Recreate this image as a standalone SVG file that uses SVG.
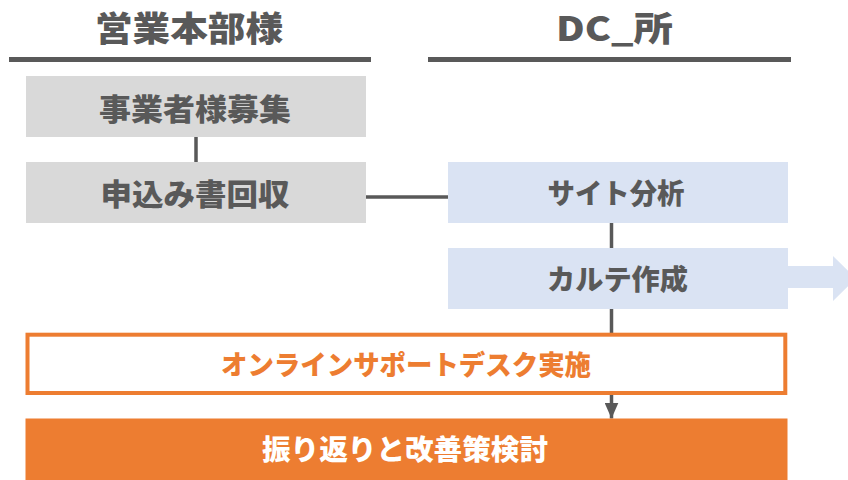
<svg xmlns="http://www.w3.org/2000/svg" width="848" height="480" viewBox="0 0 848 480">
<defs>
<style>
.t{font-family:"Noto Sans CJK JP","Noto Sans",sans-serif;font-weight:900;text-anchor:middle}
.g{fill:#595959}
.gray{fill:#d9d9d9}
.blue{fill:#dae3f3}
.ln{stroke:#595959;stroke-width:3.5;fill:none}
</style>
<marker id="ah" markerWidth="16" markerHeight="14" refX="16" refY="7" orient="auto" markerUnits="userSpaceOnUse">
<path d="M0,0 L16,7 L0,14 Z" fill="#595959"/>
</marker>
</defs>
<rect width="848" height="480" fill="#ffffff"/>
<g id="header-eigyo">
<text class="t g" x="189" y="41" font-size="34" textLength="188" lengthAdjust="spacingAndGlyphs">営業本部様</text>
<rect x="9" y="57" width="362" height="5" fill="#595959"/>
</g>
<g id="header-dc">
<text class="t g" x="614.5" y="41" font-size="34" textLength="117" lengthAdjust="spacingAndGlyphs">DC_所</text>
<rect x="428" y="57" width="363" height="5" fill="#595959"/>
</g>
<g id="connectors">
<line class="ln" x1="196" y1="137" x2="196" y2="162"/>
<line class="ln" x1="366" y1="197" x2="448" y2="197"/>
<line class="ln" x1="611.5" y1="223" x2="611.5" y2="248"/>
<line class="ln" x1="611.5" y1="309" x2="611.5" y2="418.5" marker-end="url(#ah)"/>
</g>
<g id="arrow-out">
<path class="blue" d="M788,266 H833 V256 L856,278.5 L833,301 V288 H788 Z"/>
</g>
<g id="n1">
<rect class="gray" x="26" y="76" width="340" height="61"/>
<text class="t g" x="195" y="120" font-size="30" textLength="192" lengthAdjust="spacingAndGlyphs">事業者様募集</text>
</g>
<g id="n2">
<rect class="gray" x="26" y="162" width="340" height="61"/>
<text class="t g" x="195" y="205" font-size="30" textLength="189" lengthAdjust="spacingAndGlyphs">申込み書回収</text>
</g>
<g id="n3">
<rect class="blue" x="448" y="162" width="340" height="61"/>
<text class="t g" x="616" y="203.5" font-size="28" textLength="137" lengthAdjust="spacingAndGlyphs">サイト分析</text>
</g>
<g id="n4">
<rect class="blue" x="448" y="248" width="340" height="61"/>
<text class="t g" x="617.5" y="290" font-size="28" textLength="141" lengthAdjust="spacingAndGlyphs">カルテ作成</text>
</g>
<g id="n5">
<rect x="27.5" y="334.7" width="757.8" height="58.3" fill="#ffffff" stroke="#ed7d31" stroke-width="4"/>
<text class="t" fill="#ed7d31" x="406" y="374.5" font-size="27" textLength="370" lengthAdjust="spacingAndGlyphs">オンラインサポートデスク実施</text>
</g>
<g id="n6">
<rect x="25.5" y="418.5" width="762" height="62" fill="#ed7d31"/>
<text class="t" fill="#ffffff" x="405" y="460" font-size="28" textLength="286" lengthAdjust="spacingAndGlyphs">振り返りと改善策検討</text>
</g>
</svg>
